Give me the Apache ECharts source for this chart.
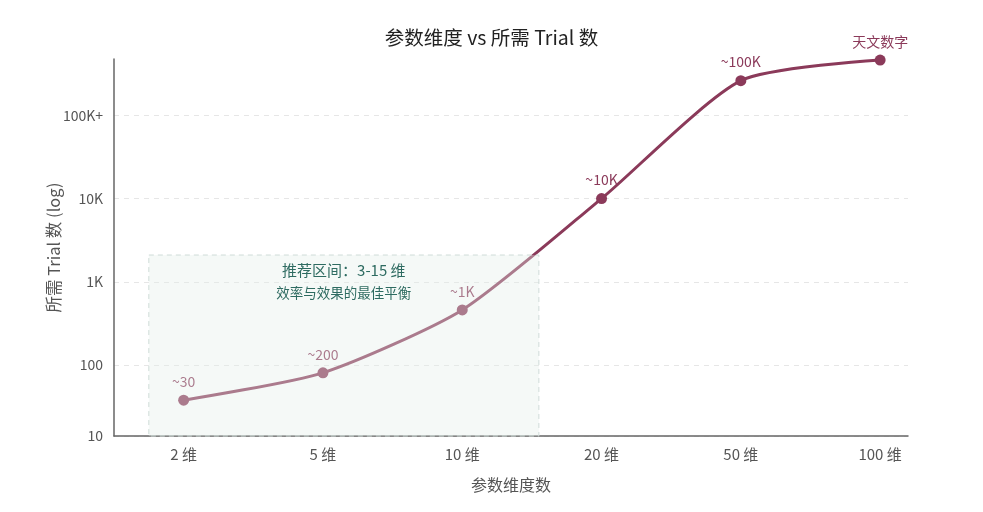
<!DOCTYPE html>
<html>
<head>
<meta charset="utf-8">
<script src="https://cdn.jsdelivr.net/npm/echarts@6/dist/echarts.min.js"></script>
<style>
html,body{margin:0;padding:0;background:#fff;}
#chart{width:983px;height:512px;}
</style>
</head>
<body>
<div id="chart"></div>
<script>
var categories = ['2 维', '5 维', '10 维', '20 维', '50 维', '100 维'];
var trials = [38, 81, 460, 10000, 260000, 460000];
var pointLabels = ['~30', '~200', '~1K', '~10K', '~100K', '天文数字'];
var yTickValues = [1.15, 2, 3, 4, 5];
var yTickLabels = ['10', '100', '1K', '10K', '100K+'];
var boxX = [-0.25, 2.55];
var boxTop = 2100;
var boxText = ['推荐区间：3-15 维', '效率与效果的最佳平衡'];

var FONT = '"Noto Sans CJK SC", "Noto Sans", sans-serif';
var lineData = trials.map(function (v, i) { return [i, Math.log10(v)]; });
var yMin = yTickValues[0];

var chart = echarts.init(document.getElementById('chart'));
chart.setOption({
  backgroundColor: '#fff',
  textStyle: { fontFamily: FONT },
  title: {
    text: '参数维度 vs 所需 Trial 数',
    left: 'center',
    top: 23,
    textStyle: { fontSize: 19.5, fontWeight: 'normal', color: '#222', fontFamily: FONT }
  },
  grid: { left: 114, right: 75, top: 59, bottom: 76, containLabel: false },
  xAxis: {
    type: 'value',
    min: -0.5,
    max: 5.2,
    name: '参数维度数',
    nameLocation: 'middle',
    nameGap: 41,
    nameTextStyle: { fontSize: 16, color: '#555' },
    axisLine: { show: true, onZero: false, lineStyle: { color: '#666', width: 1.5 } },
    axisTick: { show: false, customValues: [0, 1, 2, 3, 4, 5] },
    splitLine: { show: false },
    axisLabel: {
      customValues: [0, 1, 2, 3, 4, 5],
      margin: 11,
      fontSize: 15,
      color: '#555',
      formatter: function (v) { return categories[Math.round(v)]; }
    }
  },
  yAxis: {
    type: 'value',
    min: yMin,
    max: 5.675,
    name: '所需 Trial 数 (log)',
    nameLocation: 'middle',
    nameGap: 60,
    nameMoveOverlap: false,
    nameRotate: 90,
    nameTextStyle: { fontSize: 16.5, color: '#555', verticalAlign: 'middle' },
    axisLine: { show: true, onZero: false, lineStyle: { color: '#666', width: 1.5 } },
    axisTick: { show: false, customValues: yTickValues },
    splitLine: { show: true, lineStyle: { color: '#e6e6e6', type: [5, 5], width: 1 } },
    axisLabel: {
      customValues: yTickValues,
      margin: 11,
      fontSize: 14,
      color: '#555',
      formatter: function (v) {
        for (var i = 0; i < yTickValues.length; i++) {
          if (Math.abs(yTickValues[i] - v) < 1e-6) return yTickLabels[i];
        }
        return '';
      }
    }
  },
  series: [
    {
      type: 'line',
      data: lineData,
      smooth: 0.22,
      z: 2,
      symbol: 'circle',
      symbolSize: 11,
      lineStyle: { color: '#8b3a5a', width: 3 },
      itemStyle: { color: '#8b3a5a' },
      label: {
        show: true,
        position: 'top',
        distance: 6,
        fontSize: 14,
        color: '#8b3a5a',
        formatter: function (p) { return pointLabels[p.dataIndex]; }
      }
    },
    {
      type: 'line',
      data: [],
      z: 10,
      silent: true,
      markArea: {
        silent: true,
        z: 10,
        itemStyle: {
          color: 'rgba(226,238,233,0.36)',
          borderColor: '#cfdcd8',
          borderWidth: 1,
          borderType: [5, 4]
        },
        label: {
          show: true,
          position: 'insideTop',
          distance: 5,
          formatter: '{a|' + boxText[0] + '}\n{b|' + boxText[1] + '}',
          rich: {
            a: { fontSize: 15, color: '#2e6b61', lineHeight: 22, fontFamily: FONT },
            b: { fontSize: 13.5, color: '#2e6b61', lineHeight: 22, fontFamily: FONT }
          }
        },
        data: [[
          { coord: [boxX[0], Math.log10(boxTop)] },
          { coord: [boxX[1], yMin] }
        ]]
      }
    }
  ]
});
</script>
</body>
</html>
